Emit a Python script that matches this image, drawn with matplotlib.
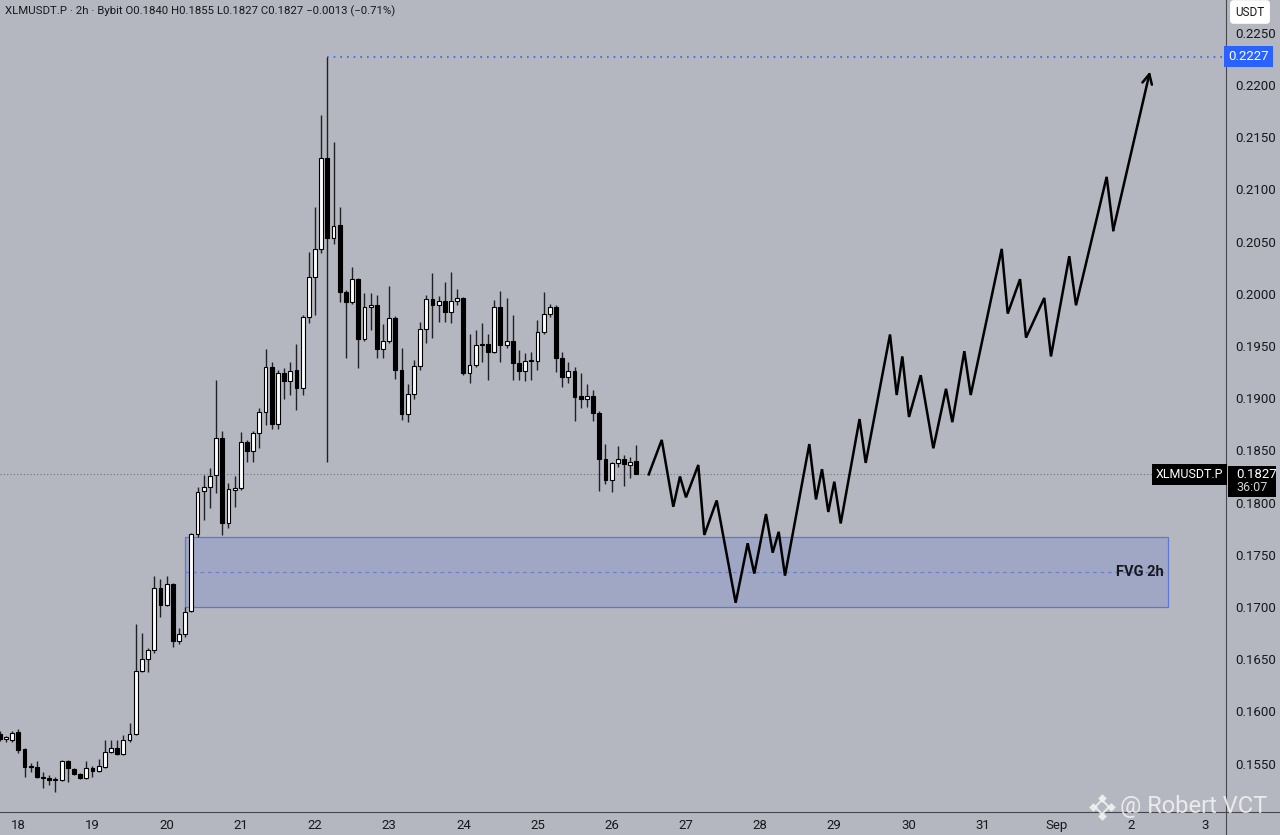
import matplotlib
matplotlib.use("Agg")
import matplotlib.pyplot as plt
from matplotlib.patches import Rectangle
import numpy as np

plt.rcParams['font.family'] = ['Roboto', 'DejaVu Sans']

# 2h candles of XLMUSDT.P, first one at Aug 17 18:00 (day 18 - 3 candles)
first_candle = 18 - 3 / 12
candle_step = 2 / 24
opens = [0.1578, 0.1574, 0.1573, 0.1580, 0.1564, 0.1548, 0.1547, 0.1536, 0.1536, 0.1534,
         0.1534, 0.1552, 0.1545, 0.1540, 0.1536, 0.1546, 0.1543, 0.1547, 0.1561, 0.1565,
         0.1559, 0.1573, 0.1578, 0.1639, 0.1650, 0.1659, 0.1718, 0.1702, 0.1722, 0.1667,
         0.1674, 0.1696, 0.1770, 0.1811, 0.1815, 0.1826, 0.1862, 0.1780, 0.1812, 0.1814,
         0.1858, 0.1849, 0.1867, 0.1887, 0.1930, 0.1875, 0.1924, 0.1916, 0.1927, 0.1910,
         0.1978, 0.2016, 0.2043, 0.2130, 0.2053, 0.2066, 0.2002, 0.1992, 0.2014, 0.1957,
         0.1987, 0.1989, 0.1947, 0.1955, 0.1977, 0.1927, 0.1885, 0.1904, 0.1931, 0.1966,
         0.1995, 0.1989, 0.1993, 0.1983, 0.1993, 0.1996, 0.1924, 0.1932, 0.1951, 0.1952,
         0.1944, 0.1987, 0.1951, 0.1955, 0.1934, 0.1926, 0.1936, 0.1936, 0.1963, 0.1981,
         0.1987, 0.1938, 0.1920, 0.1926, 0.1902, 0.1899, 0.1902, 0.1886, 0.1842, 0.1822,
         0.1838, 0.1842, 0.1836, 0.1840]
highs = [0.1581, 0.1576, 0.1581, 0.1583, 0.1565, 0.1551, 0.1552, 0.1542, 0.1539, 0.1537,
         0.1553, 0.1553, 0.1546, 0.1541, 0.1552, 0.1548, 0.1554, 0.1573, 0.1573, 0.1573,
         0.1577, 0.1589, 0.1684, 0.1675, 0.1661, 0.1730, 0.1727, 0.1730, 0.1723, 0.1680,
         0.1700, 0.1771, 0.1815, 0.1826, 0.1833, 0.1917, 0.1869, 0.1819, 0.1825, 0.1868,
         0.1860, 0.1869, 0.1891, 0.1947, 0.1935, 0.1927, 0.1929, 0.1935, 0.1952, 0.1980,
         0.2040, 0.2083, 0.2171, 0.2227, 0.2145, 0.2083, 0.2004, 0.2026, 0.2015, 0.2001,
         0.2001, 0.1999, 0.1971, 0.2007, 0.1979, 0.1948, 0.1914, 0.1937, 0.1973, 0.1999,
         0.2020, 0.1998, 0.2011, 0.2021, 0.2005, 0.1997, 0.1961, 0.1965, 0.1972, 0.1961,
         0.1994, 0.2003, 0.1996, 0.1980, 0.1946, 0.1943, 0.1944, 0.1975, 0.2002, 0.1990,
         0.1989, 0.1944, 0.1935, 0.1930, 0.1924, 0.1914, 0.1908, 0.1888, 0.1856, 0.1839,
         0.1854, 0.1846, 0.1844, 0.1855]
lows = [0.1572, 0.1571, 0.1571, 0.1560, 0.1537, 0.1542, 0.1536, 0.1527, 0.1529, 0.1523,
        0.1533, 0.1532, 0.1539, 0.1535, 0.1535, 0.1537, 0.1542, 0.1546, 0.1560, 0.1558,
        0.1558, 0.1571, 0.1577, 0.1638, 0.1638, 0.1656, 0.1690, 0.1701, 0.1662, 0.1665,
        0.1671, 0.1695, 0.1767, 0.1783, 0.1795, 0.1809, 0.1769, 0.1776, 0.1796, 0.1812,
        0.1839, 0.1839, 0.1852, 0.1874, 0.1870, 0.1870, 0.1899, 0.1903, 0.1889, 0.1903,
        0.1972, 0.1980, 0.2039, 0.1839, 0.2048, 0.1992, 0.1938, 0.1990, 0.1929, 0.1955,
        0.1965, 0.1938, 0.1938, 0.1953, 0.1918, 0.1879, 0.1877, 0.1899, 0.1927, 0.1953,
        0.1958, 0.1973, 0.1973, 0.1972, 0.1989, 0.1922, 0.1915, 0.1930, 0.1935, 0.1917,
        0.1943, 0.1935, 0.1948, 0.1917, 0.1917, 0.1916, 0.1917, 0.1927, 0.1961, 0.1978,
        0.1925, 0.1911, 0.1915, 0.1878, 0.1891, 0.1892, 0.1878, 0.1811, 0.1818, 0.1810,
        0.1834, 0.1816, 0.1824, 0.1827]
closes = [0.1574, 0.1575, 0.1579, 0.1563, 0.1547, 0.1547, 0.1537, 0.1537, 0.1534, 0.1535,
          0.1552, 0.1546, 0.1540, 0.1536, 0.1546, 0.1543, 0.1548, 0.1561, 0.1565, 0.1559,
          0.1573, 0.1578, 0.1639, 0.1650, 0.1659, 0.1718, 0.1702, 0.1722, 0.1667, 0.1674,
          0.1695, 0.1770, 0.1810, 0.1815, 0.1825, 0.1862, 0.1780, 0.1813, 0.1814, 0.1858,
          0.1849, 0.1867, 0.1887, 0.1930, 0.1875, 0.1924, 0.1916, 0.1926, 0.1910, 0.1978,
          0.2016, 0.2043, 0.2130, 0.2053, 0.2065, 0.2002, 0.1992, 0.2014, 0.1957, 0.1987,
          0.1989, 0.1947, 0.1955, 0.1977, 0.1927, 0.1885, 0.1904, 0.1931, 0.1966, 0.1995,
          0.1989, 0.1993, 0.1983, 0.1993, 0.1996, 0.1924, 0.1932, 0.1951, 0.1952, 0.1944,
          0.1987, 0.1951, 0.1955, 0.1934, 0.1926, 0.1936, 0.1937, 0.1963, 0.1981, 0.1987,
          0.1938, 0.1920, 0.1926, 0.1901, 0.1899, 0.1902, 0.1886, 0.1842, 0.1822, 0.1838,
          0.1842, 0.1837, 0.1839, 0.1827]

last_price = 0.1827
ath_price = 0.2227
fvg_low, fvg_high = 0.1700, 0.1767
fvg_start, fvg_end = 20.25, 33.5

# hand drawn projection (day, price)
path_days = [26.50, 26.675, 26.831, 26.921, 27.002, 27.168, 27.249, 27.416, 27.672, 27.834,
             27.923, 28.081, 28.171, 28.252, 28.337, 28.665, 28.755, 28.836, 28.921, 29.002,
             29.088, 29.342, 29.425, 29.753, 29.843, 29.919, 30.009, 30.167, 30.337, 30.508,
             30.593, 30.755, 30.841, 31.259, 31.340, 31.506, 31.587, 31.833, 31.923, 32.170,
             32.261, 32.674, 32.763, 33.258]
path_prices = [0.1827, 0.1860, 0.1796, 0.1825, 0.1805, 0.1836, 0.1769, 0.1802, 0.1704, 0.1761,
               0.1732, 0.1789, 0.1752, 0.1772, 0.1730, 0.1856, 0.1803, 0.1832, 0.1791, 0.1820,
               0.1780, 0.1880, 0.1838, 0.1961, 0.1903, 0.1940, 0.1882, 0.1922, 0.1852, 0.1909,
               0.1877, 0.1945, 0.1903, 0.2043, 0.1981, 0.2014, 0.1958, 0.1996, 0.1940, 0.2036,
               0.1989, 0.2112, 0.2061, 0.2213]

day_ticks = list(range(18, 35))
day_labels = [str(d) for d in range(18, 32)] + ['Sep', '2', '3']
price_ticks = [0.155, 0.160, 0.165, 0.170, 0.175, 0.180, 0.185, 0.190,
               0.195, 0.200, 0.205, 0.210, 0.215, 0.220, 0.225]

bg = '#b4b7c0'
ink = '#17181c'
W, H = 1280, 835
fig = plt.figure(figsize=(W / 100, H / 100), dpi=100, facecolor=bg)
ax = fig.add_axes([0, 23 / H, 1226 / W, 812 / H])
ax.set_facecolor(bg)
ax.set_xlim(17.753, 34.283)
ax.set_ylim(0.15036, 0.22814)

times = first_candle + np.arange(len(opens)) * candle_step
o = np.array(opens); c = np.array(closes)
up = c >= o
ax.vlines(times, lows, highs, color='#202125', linewidth=1.0, zorder=3)
body_bottom = np.minimum(o, c)
body_h = np.maximum(np.abs(c - o), 0.00006)
ax.bar(times, body_h, bottom=body_bottom, width=candle_step * 0.62,
       color=np.where(up, '#ffffff', '#000000'), edgecolor='#000000', linewidth=0.8, zorder=4)

# last price line and ATH line
ax.axhline(last_price, color='#6f727b', linestyle=(0, (1, 2)), linewidth=0.8, zorder=2)
ax.plot([times[53], 34.283], [ath_price, ath_price], color='#2962ff', linestyle=(0, (1, 3)),
        linewidth=1.2, zorder=2)

# fair value gap
ax.add_patch(Rectangle((fvg_start, fvg_low), fvg_end - fvg_start, fvg_high - fvg_low,
                       facecolor='#5a72d6', alpha=0.22, edgecolor='none', zorder=1))
ax.add_patch(Rectangle((fvg_start, fvg_low), fvg_end - fvg_start, fvg_high - fvg_low,
                       facecolor='none', edgecolor='#5b78d6', linewidth=0.9, zorder=1))
ax.plot([fvg_start, fvg_end], [(fvg_low + fvg_high) / 2] * 2, color='#6f7fc4',
        linestyle=(0, (3, 3)), linewidth=0.9, zorder=1)
ax.text(fvg_end - 0.06, (fvg_low + fvg_high) / 2, 'FVG 2h', ha='right', va='center',
        fontsize=10.5, fontweight='bold', color=ink, zorder=5)

# projection
ax.plot(path_days[:-1], path_prices[:-1], color='#000000', linewidth=1.8, zorder=6,
        solid_joinstyle='miter')
ax.annotate('', xy=(path_days[-1], path_prices[-1]), xytext=(path_days[-2], path_prices[-2]),
            arrowprops=dict(arrowstyle='->,head_length=0.7,head_width=0.35', color='#000000',
                            lw=1.8, shrinkA=0, shrinkB=0), zorder=6)

# axes
for s in ['top', 'left']:
    ax.spines[s].set_visible(False)
ax.spines['right'].set_color('#45474d')
ax.spines['bottom'].set_color('#45474d')
ax.yaxis.tick_right()
ax.set_yticks(price_ticks)
ax.set_yticklabels([f'{p:.4f}' for p in price_ticks])
ax.set_xticks(day_ticks)
ax.set_xticklabels(day_labels)
ax.tick_params(axis='y', length=0, pad=7, labelsize=9.5, labelcolor=ink)
ax.tick_params(axis='x', length=0, pad=5, labelsize=9.5, labelcolor=ink)

# extend axis lines to the edges
fig.add_artist(plt.Line2D([1226 / W, 1226 / W], [0, 23 / H], color='#45474d', linewidth=0.8))
fig.add_artist(plt.Line2D([1226 / W, 1], [23 / H, 23 / H], color='#45474d', linewidth=0.8))

yx = ax.get_yaxis_transform()
ax.text(1228 / 1226, ath_price, '0.2227', transform=yx, ha='left', va='center', fontsize=9.5,
        color='white', clip_on=False,
        bbox=dict(boxstyle='square,pad=0.3', fc='#2962ff', ec='none'))
ax.add_patch(Rectangle((1228 / 1226, 0.18054), 48 / 1226, 0.18351 - 0.18054, transform=yx,
                       facecolor='#000000', edgecolor='none', clip_on=False, zorder=7))
ax.text(1236 / 1226, last_price, f'{last_price:.4f}', transform=yx, ha='left', va='center',
        fontsize=9.5, color='white', clip_on=False, zorder=8)
ax.text(1236 / 1226, 0.18148, '36:07', transform=yx, ha='left', va='center',
        fontsize=9, color='#d0d0d0', clip_on=False, zorder=8)
ax.text(1223 / 1226, last_price, 'XLMUSDT.P', transform=yx, ha='right', va='center',
        fontsize=9, color='white', clip_on=False, zorder=8,
        bbox=dict(boxstyle='square,pad=0.3', fc='#000000', ec='none'))

fig.text(1250 / W, 1 - 12 / H, 'USDT', ha='center', va='center', fontsize=8.5, color=ink,
         bbox=dict(boxstyle='round,pad=0.45,rounding_size=0.3', fc='white', ec='none'))
fig.text(5 / W, 1 - 11 / H,
         'XLMUSDT.P · 2h · Bybit O0.1840 H0.1855 L0.1827 C0.1827 −0.0013 (−0.71%)',
         ha='left', va='center', fontsize=8.2, color=ink)

# watermark
wm_x, wm_y = 1102 / W, 1 - 807 / H
for dx, dy, ms in [(0, 0, 7), (-9, 0, 3), (9, 0, 3), (0, 9, 3), (0, -9, 3)]:
    fig.add_artist(plt.Line2D([wm_x + dx / W], [wm_y + dy / H], marker='D', markersize=ms,
                              markerfacecolor='none' if ms > 5 else '#f2f2f2',
                              markeredgecolor='#f2f2f2', markeredgewidth=1.5, alpha=0.85))
fig.text(1120 / W, wm_y, '@ Robert VCT', ha='left', va='center', fontsize=17,
         color='#f4f4f4', alpha=0.85)

fig.savefig('out.png', dpi=100, facecolor=bg)
